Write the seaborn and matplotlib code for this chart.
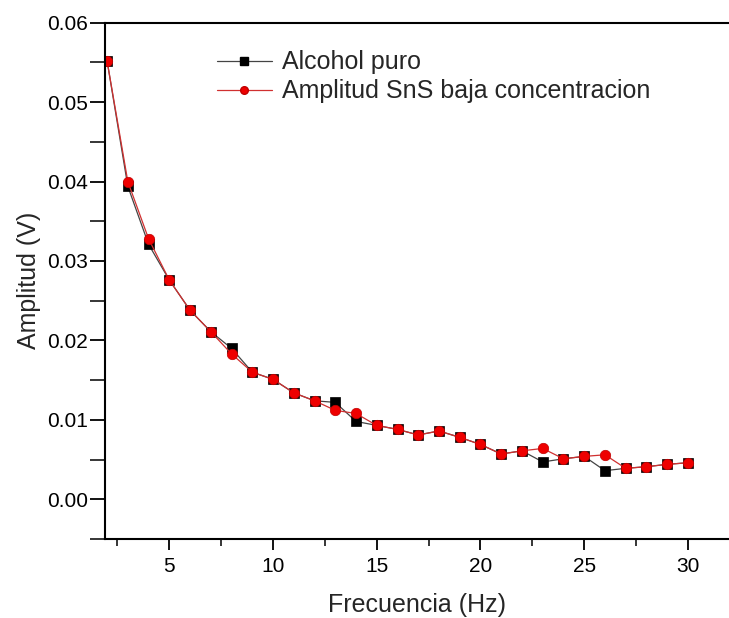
import numpy as np
import pandas as pd
import seaborn as sns
import matplotlib
matplotlib.use("Agg")
import matplotlib.pyplot as plt
from matplotlib.ticker import MultipleLocator, FormatStrFormatter
from matplotlib.lines import Line2D

frecuencia = list(range(2, 31))
alcohol_puro = [0.0552, 0.0394, 0.0321, 0.0276, 0.0238, 0.0211, 0.0190, 0.0160, 0.0151,
                0.0134, 0.0124, 0.0122, 0.0098, 0.0093, 0.0088, 0.0081, 0.0086, 0.0078,
                0.0069, 0.0057, 0.0061, 0.0047, 0.0051, 0.0054, 0.0036, 0.0039, 0.0041,
                0.0044, 0.0046]
sns_baja = [0.0552, 0.0400, 0.0328, 0.0276, 0.0238, 0.0211, 0.0183, 0.0160, 0.0151,
            0.0134, 0.0124, 0.0112, 0.0108, 0.0093, 0.0088, 0.0081, 0.0086, 0.0078,
            0.0069, 0.0057, 0.0061, 0.0064, 0.0051, 0.0054, 0.0056, 0.0039, 0.0041,
            0.0044, 0.0046]
label_alcohol = "Alcohol puro"
label_sns = "Amplitud SnS baja concentracion"

sns.set_style("ticks")
plt.rcParams['font.family'] = ['Liberation Sans', 'DejaVu Sans']

fig = plt.figure(figsize=(7.29, 6.18), dpi=100)
ax = fig.add_axes([105/729, 1 - 539/618, 1 - 105/729, (539 - 22.7)/618])

sns.lineplot(x=frecuencia, y=alcohol_puro, ax=ax, color='#444444', linewidth=0.9,
             marker='s', markersize=6.5, markerfacecolor='black', markeredgecolor='black',
             markeredgewidth=0.5)
sns.lineplot(x=frecuencia, y=sns_baja, ax=ax, color='#d03030', linewidth=0.9,
             marker='o', markersize=7.5, markerfacecolor='#ee0000', markeredgecolor='#c00000',
             markeredgewidth=0.5)

ax.set_xlim(1.9, 31.98)
ax.set_ylim(-0.005, 0.06)
ax.xaxis.set_major_locator(MultipleLocator(5))
ax.xaxis.set_minor_locator(MultipleLocator(2.5))
ax.yaxis.set_major_locator(MultipleLocator(0.01))
ax.yaxis.set_minor_locator(MultipleLocator(0.005))
ax.yaxis.set_major_formatter(FormatStrFormatter('%.2f'))

for s in ['left', 'bottom', 'top']:
    ax.spines[s].set_linewidth(1.5)
    ax.spines[s].set_color('black')
ax.spines['right'].set_visible(False)

ax.tick_params(axis='both', which='major', direction='out', width=1.3,
               labelsize=15, colors='black')
ax.tick_params(axis='y', which='both', length=10.5, width=1.3, pad=2)
ax.tick_params(axis='x', which='major', length=8, pad=5)
ax.tick_params(axis='x', which='minor', direction='out', length=5, width=1.3)

ax.set_xlabel('Frecuencia (Hz)', fontsize=18, labelpad=12)
ax.set_ylabel('Amplitud (V)', fontsize=18)
ax.yaxis.set_label_coords(-0.103, 0.5)

handles = [
    Line2D([], [], color='#444444', linewidth=0.9, marker='s', markersize=5.5,
           markerfacecolor='black', markeredgecolor='black'),
    Line2D([], [], color='#d03030', linewidth=0.9, marker='o', markersize=5.5,
           markerfacecolor='#ee0000', markeredgecolor='#c00000'),
]
ax.legend(handles, [label_alcohol, label_sns], loc='upper left',
          bbox_to_anchor=(0.143, 0.99), frameon=False, fontsize=18,
          handlelength=2.2, handletextpad=0.4, labelspacing=0.2)

fig.savefig('out.png', dpi=100)
